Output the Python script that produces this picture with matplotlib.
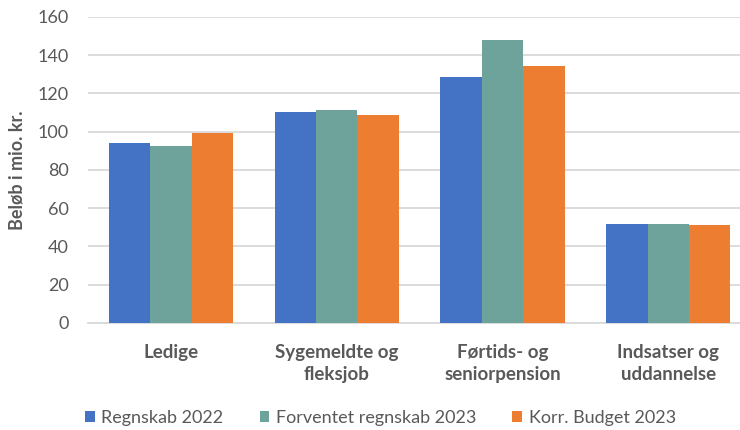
import matplotlib
matplotlib.use("Agg")
import matplotlib.pyplot as plt
import numpy as np

categories = ["Ledige", "Sygemeldte og\nfleksjob", "Førtids- og\nseniorpension", "Indsatser og\nuddannelse"]
series_names = ["Regnskab 2022", "Forventet regnskab 2023", "Korr. Budget 2023"]
regnskab_2022 = [93.9, 110.4, 128.7, 51.5]
forventet_2023 = [92.3, 111.1, 147.8, 51.5]
budget_2023 = [99.1, 108.7, 134.3, 51.0]
colors = ["#4472C4", "#6DA39A", "#ED7D31"]

plt.rcParams["font.family"] = ["Lato", "DejaVu Sans"]

fig = plt.figure(figsize=(7.4, 4.3), dpi=100)
ax = fig.add_axes([0.119, 0.249, 0.896, 0.712])

x = np.arange(len(categories))
width = 0.25
for i, (vals, name) in enumerate(zip([regnskab_2022, forventet_2023, budget_2023], series_names)):
    ax.bar(x + (i - 1) * width, vals, width, color=colors[i], label=name, zorder=3)

ax.set_ylim(0, 160)
ax.set_xlim(-0.5, 3.5)
ax.set_yticks(range(0, 161, 20))
ax.yaxis.grid(True, color="#D9D9D9", linewidth=1.3, zorder=0)
for s in ["top", "right", "left"]:
    ax.spines[s].set_visible(False)
ax.spines["bottom"].set_color("#D9D9D9")
ax.spines["bottom"].set_linewidth(1.3)
ax.tick_params(axis="both", length=0, colors="#595959", labelsize=13)
ax.tick_params(axis="y", pad=14)
ax.tick_params(axis="x", pad=15)
ax.set_xticks(x)
ax.set_xticklabels(categories, fontweight="bold", fontsize=13.5, color="#595959", linespacing=1.35)
ax.set_ylabel("Beløb i mio. kr.", fontweight="bold", fontsize=13, color="#595959")
ax.yaxis.set_label_coords(-0.094, 0.5)

fig.legend(*ax.get_legend_handles_labels(), loc="center", bbox_to_anchor=(0.514, 0.028), ncol=3,
           frameon=False, fontsize=13, handlelength=0.55, handleheight=0.55, handletextpad=0.35,
           columnspacing=2.0, labelcolor="#595959", borderaxespad=0, borderpad=0)

fig.savefig("out.png", dpi=100)
